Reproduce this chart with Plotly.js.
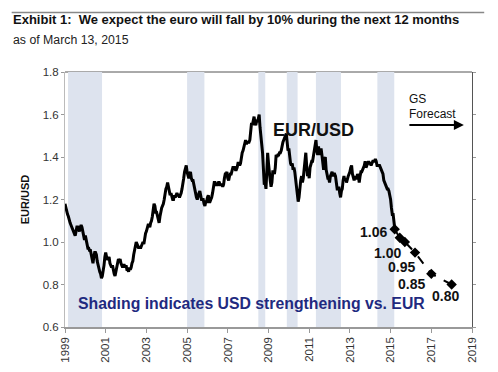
<!DOCTYPE html>
<html><head><meta charset="utf-8">
<script src="https://cdn.plot.ly/plotly-3.0.1.min.js"></script>
<style>html,body{margin:0;padding:0;background:#fff}#chart{width:498px;height:372px}</style>
</head><body><div id="chart"></div>
<script>
// EUR/USD semi-monthly readings, starting Jan 1999
var histStart = 1999;
var eurusd = [
1.18,1.16,1.14,1.13,1.12,1.10,1.09,1.08,1.07,1.06,1.05,1.04,1.03,1.05,1.07,1.07,1.06,1.05,1.07,1.08,1.07,1.04,1.03,1.01,
1.03,1.01,0.98,0.97,0.97,0.96,0.96,0.94,0.92,0.90,0.93,0.95,0.95,0.94,0.91,0.89,0.87,0.86,0.85,0.83,0.84,0.86,0.89,0.93,
0.95,0.93,0.92,0.92,0.93,0.90,0.89,0.88,0.89,0.86,0.85,0.84,0.86,0.88,0.90,0.92,0.91,0.92,0.90,0.89,0.88,0.89,0.89,0.88,
0.89,0.87,0.87,0.86,0.88,0.87,0.88,0.90,0.91,0.94,0.96,0.99,1.00,0.99,0.98,0.97,0.98,0.97,0.98,0.99,1.00,0.99,1.02,1.04,
1.05,1.07,1.08,1.08,1.07,1.09,1.10,1.12,1.16,1.18,1.17,1.14,1.14,1.12,1.11,1.09,1.12,1.15,1.16,1.17,1.18,1.20,1.23,1.25,
1.26,1.28,1.26,1.24,1.22,1.23,1.21,1.20,1.20,1.22,1.21,1.22,1.23,1.22,1.22,1.21,1.22,1.23,1.25,1.27,1.30,1.33,1.35,1.36,
1.33,1.31,1.30,1.32,1.33,1.30,1.29,1.29,1.27,1.24,1.22,1.21,1.20,1.22,1.23,1.24,1.22,1.20,1.20,1.20,1.18,1.17,1.19,1.19,
1.21,1.22,1.19,1.19,1.20,1.21,1.23,1.26,1.28,1.28,1.27,1.27,1.27,1.28,1.28,1.27,1.27,1.27,1.26,1.27,1.30,1.32,1.32,1.33,
1.30,1.29,1.31,1.32,1.32,1.34,1.35,1.35,1.35,1.34,1.34,1.35,1.37,1.37,1.36,1.37,1.40,1.42,1.43,1.45,1.47,1.48,1.46,1.47,
1.47,1.47,1.48,1.51,1.56,1.55,1.58,1.59,1.56,1.55,1.57,1.57,1.58,1.60,1.54,1.47,1.46,1.42,1.35,1.27,1.28,1.25,1.33,1.42,
1.37,1.30,1.29,1.26,1.28,1.33,1.33,1.32,1.35,1.41,1.40,1.41,1.41,1.42,1.42,1.43,1.46,1.47,1.48,1.49,1.50,1.51,1.47,1.43,
1.44,1.40,1.37,1.36,1.37,1.34,1.35,1.33,1.29,1.24,1.21,1.19,1.21,1.26,1.29,1.31,1.28,1.30,1.35,1.39,1.42,1.36,1.31,1.33,
1.30,1.35,1.37,1.38,1.38,1.41,1.44,1.47,1.48,1.43,1.41,1.45,1.41,1.43,1.44,1.41,1.37,1.34,1.39,1.40,1.34,1.32,1.30,1.30,
1.28,1.31,1.32,1.33,1.31,1.32,1.32,1.31,1.28,1.25,1.25,1.26,1.23,1.21,1.24,1.25,1.29,1.31,1.29,1.30,1.28,1.30,1.31,1.32,
1.33,1.35,1.36,1.32,1.30,1.29,1.31,1.30,1.30,1.32,1.31,1.28,1.31,1.33,1.33,1.34,1.35,1.36,1.38,1.35,1.36,1.37,1.38,1.37,
1.37,1.36,1.37,1.38,1.38,1.38,1.39,1.38,1.36,1.36,1.36,1.36,1.35,1.34,1.33,1.32,1.29,1.28,1.27,1.26,1.25,1.25,1.24,1.22,
1.20,1.16,1.13,1.13,1.10,1.06
];
// GS forecast path
var fcDates = [2015.2, 2015.45, 2015.7, 2016.2, 2017.0, 2018.0];
var fcValues = [1.06, 1.02, 1.00, 0.95, 0.85, 0.80];
var fcLabels = ["1.06", "", "1.00", "0.95", "0.85", "0.80"];
// USD strengthening periods
var shadeStart = [1999.15, 2005.0, 2008.5, 2009.9, 2011.33, 2014.35];
var shadeEnd   = [2000.82, 2005.85, 2008.84, 2010.43, 2012.56, 2015.18];
var yearTicks = [1999,2001,2003,2005,2007,2009,2011,2013,2015,2017,2019];

var histX = eurusd.map(function(v,i){return histStart + i/24;});

var traces = [
 {x: histX, y: eurusd, type:'scatter', mode:'lines', line:{color:'#000', width:3}, hoverinfo:'skip'},
 {x: fcDates, y: fcValues, type:'scatter', mode:'lines+markers', line:{color:'#000', width:2, dash:'dash'},
  marker:{symbol:'diamond', size:8, color:'#000'}, hoverinfo:'skip'},
 {x: [1999, 2019], y: [0.6, 0.6], yaxis:'y2', type:'scatter', mode:'none', hoverinfo:'skip'}
];

var shapes = [
 {type:'line', xref:'paper', yref:'paper', x0:0, x1:1, y0:1, y1:1, line:{color:'#555', width:1}, layer:'below'},
 {type:'line', xref:'paper', yref:'paper', x0:-0.131, x1:1.03, y0:1.233, y1:1.233, line:{color:'#888', width:1.5}}
];
shadeStart.forEach(function(s,i){
 shapes.push({type:'rect', xref:'x', yref:'paper', x0:s, x1:shadeEnd[i], y0:0, y1:1,
   fillcolor:'#dde3ee', line:{width:0}, layer:'below'});
});

var shifts = [[-21,-3],[0,0],[-17,-11],[-14,-14],[-20,-10],[-6,-11]];
var annotations = [
 {xref:'paper', yref:'paper', x:-0.1327, y:1.205, xanchor:'left', yanchor:'middle', showarrow:false,
  text:'<b>Exhibit 1:  We expect the euro will fall by 10% during the next 12 months</b>',
  font:{family:'Arial, Liberation Sans, sans-serif', size:13, color:'#111'}},
 {xref:'paper', yref:'paper', x:-0.1327, y:1.125, xanchor:'left', yanchor:'middle', showarrow:false,
  text:'as of March 13, 2015', font:{family:'Arial, Liberation Sans, sans-serif', size:12.3, color:'#222'}},
 {xref:'x', yref:'y', x:2011.2, y:1.529, showarrow:false, text:'<b>EUR/USD</b>',
  font:{family:'Arial, Liberation Sans, sans-serif', size:18, color:'#111'}},
 {xref:'x', yref:'y', x:2015.83, y:1.675, xanchor:'left', showarrow:false, text:'GS',
  font:{family:'Arial, Liberation Sans, sans-serif', size:12, color:'#111'}},
 {xref:'x', yref:'y', x:2015.83, y:1.601, xanchor:'left', showarrow:false, text:'Forecast',
  font:{family:'Arial, Liberation Sans, sans-serif', size:12, color:'#111'}},
 {xref:'x', yref:'y', axref:'x', ayref:'y', x:2018.6, y:1.551, ax:2015.85, ay:1.551, text:'', showarrow:true,
  arrowhead:2, arrowsize:1, arrowwidth:2, arrowcolor:'#000'},
 {xref:'paper', yref:'paper', x:0.459, y:0.05, showarrow:false,
  text:'<b>Shading indicates USD strengthening vs. EUR</b>',
  font:{family:'Arial, Liberation Sans, sans-serif', size:15.8, color:'#1f2a80'}}
];
fcValues.forEach(function(v,i){
 if(!fcLabels[i]) return;
 annotations.push({xref:'x', yref:'y', x:fcDates[i], y:v, showarrow:false, text:'<b>'+fcLabels[i]+'</b>',
   xshift:shifts[i][0], yshift:shifts[i][1],
   font:{family:'Arial, Liberation Sans, sans-serif', size:14, color:'#111'}});
});

var layout = {
 width:498, height:372,
 margin:{l:65, r:26, t:72, b:45},
 paper_bgcolor:'#fff', plot_bgcolor:'rgba(0,0,0,0)',
 showlegend:false,
 font:{family:'Arial, Liberation Sans, sans-serif', size:11.5, color:'#333'},
 xaxis:{range:[1999,2019], tickvals:yearTicks, ticktext:yearTicks.map(String), tickangle:-90,
   showgrid:false, zeroline:false, showline:true, linecolor:'#999', linewidth:1.5,
   ticks:'outside', ticklen:4, tickcolor:'#999', tickfont:{size:11.5, color:'#333'}},
 yaxis:{range:[0.6,1.8], dtick:0.2, tickformat:'.1f', showgrid:false, zeroline:false,
   showline:true, linecolor:'#bbb', linewidth:1, ticks:'outside', ticklen:3, tickcolor:'#999',
   tickfont:{size:11.5, color:'#333'},
   title:{text:'<b>EUR/USD</b>', font:{size:11, color:'#111'}, standoff:10}},
 yaxis2:{range:[0.6,1.8], dtick:0.2, overlaying:'y', side:'right', showticklabels:false,
   showgrid:false, zeroline:false, showline:true, linecolor:'#555', linewidth:1,
   ticks:'outside', ticklen:3, tickcolor:'#999'},
 shapes:shapes, annotations:annotations
};
Plotly.newPlot('chart', traces, layout, {staticPlot:true});
</script></body></html>
